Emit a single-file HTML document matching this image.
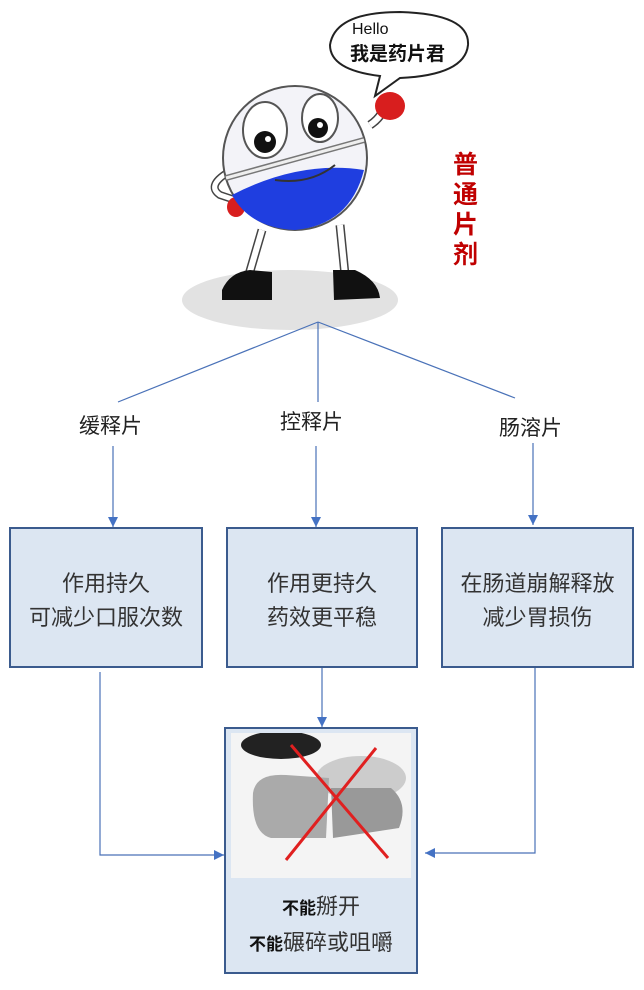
<!DOCTYPE html>
<html><head><meta charset="utf-8"><style>
body{margin:0;background:#fff;width:644px;height:990px;overflow:hidden;position:relative;font-family:"Liberation Sans","Noto Sans CJK SC",sans-serif;}
.b{position:absolute;background:#dce6f2;border:2px solid #3b5b8e;box-sizing:border-box;display:flex;flex-direction:column;align-items:center;justify-content:center;font-size:22px;color:#333;line-height:34px;}
.l{position:absolute;font-size:21px;color:#222;}
</style></head><body>
<svg width="644" height="990" style="position:absolute;left:0;top:0">
<defs><marker id="a" markerWidth="12" markerHeight="12" refX="10" refY="5" orient="auto" markerUnits="userSpaceOnUse"><path d="M0,0 L10,5 L0,10z" fill="#4472c4"/></marker></defs>
<ellipse cx="290" cy="300" rx="108" ry="30" fill="#e2e2e2"/>
<path d="M262,230 L248,278" stroke="#444" stroke-width="9" fill="none"/>
<path d="M262,230 L248,278" stroke="#fff" stroke-width="6" fill="none"/>
<path d="M340,225 L345,275" stroke="#444" stroke-width="9" fill="none"/>
<path d="M340,225 L345,275" stroke="#fff" stroke-width="6" fill="none"/>
<path d="M222,290 Q230,272 250,270 L272,272 L272,300 L222,300z" fill="#111"/>
<path d="M333,270 L355,270 Q378,280 380,298 L334,300z" fill="#111"/>
<path d="M370,125 Q385,115 385,100" stroke="#444" stroke-width="9" fill="none"/>
<path d="M370,125 Q385,115 385,100" stroke="#fff" stroke-width="6" fill="none"/>
<path d="M232,170 Q205,185 220,195 L235,200" stroke="#444" stroke-width="8" fill="none"/>
<path d="M232,170 Q205,185 220,195 L235,200" stroke="#fff" stroke-width="5" fill="none"/>
<ellipse cx="390" cy="106" rx="15" ry="14" fill="#d81e1e"/>
<ellipse cx="236" cy="207" rx="9" ry="10" fill="#d81e1e"/>
<circle cx="295" cy="158" r="72" fill="#f3f3f8" stroke="#555" stroke-width="2"/>
<path d="M232,195 Q300,160 364,170 Q350,225 295,230 Q250,228 232,195z" fill="#1f3ee0"/>
<path d="M226,178 L364,140" stroke="#777" stroke-width="6"/>
<path d="M226,178 L364,140" stroke="#eee" stroke-width="3"/>
<ellipse cx="265" cy="130" rx="22" ry="28" fill="#fff" stroke="#555" stroke-width="2"/>
<ellipse cx="320" cy="118" rx="18" ry="24" fill="#fff" stroke="#555" stroke-width="2"/>
<circle cx="265" cy="142" r="11" fill="#111"/><circle cx="318" cy="128" r="10" fill="#111"/>
<circle cx="268" cy="139" r="3" fill="#fff"/><circle cx="320" cy="125" r="3" fill="#fff"/>
<path d="M275,180 Q310,185 335,165" stroke="#333" stroke-width="2" fill="none"/>
<path d="M330,45 Q335,12 400,12 Q470,14 468,45 Q465,75 400,78 L375,96 L380,76 Q330,70 330,45z" fill="#fff" stroke="#222" stroke-width="2"/>
<text x="352" y="34" font-size="16" fill="#111" font-family="Liberation Sans,sans-serif">Hello</text>
<text x="350" y="60" font-size="19" font-weight="bold" fill="#111" font-family="Liberation Sans,Noto Sans CJK SC,sans-serif">我是药片君</text>
<g stroke="#4a72b8" stroke-width="1.2" fill="none">
<path d="M318,322 L118,402"/><path d="M318,322 L318,402"/><path d="M318,322 L515,398"/>
<path d="M113,446 L113,527" marker-end="url(#a)"/>
<path d="M316,446 L316,527" marker-end="url(#a)"/>
<path d="M533,443 L533,525" marker-end="url(#a)"/>
<path d="M100,672 L100,855 L224,855" marker-end="url(#a)"/>
<path d="M322,667 L322,727" marker-end="url(#a)"/>
<path d="M535,668 L535,853 L425,853" marker-end="url(#a)"/>
</g>
</svg>
<div style="position:absolute;left:453px;top:150px;width:30px;font-size:25px;font-weight:bold;color:#c00000;line-height:30px;">普通片剂</div>
<div class="l" style="left:79px;top:410px">缓释片</div>
<div class="l" style="left:280px;top:406px">控释片</div>
<div class="l" style="left:499px;top:412px">肠溶片</div>
<div class="b" style="left:9px;top:527px;width:194px;height:141px;padding-top:6px"><div>作用持久</div><div>可减少口服次数</div></div>
<div class="b" style="left:226px;top:527px;width:192px;height:141px;padding-top:6px"><div>作用更持久</div><div>药效更平稳</div></div>
<div class="b" style="left:441px;top:527px;width:193px;height:141px;padding-top:6px"><div>在肠道崩解释放</div><div>减少胃损伤</div></div>
<div class="b" style="left:224px;top:727px;width:194px;height:247px;justify-content:flex-start">
<svg width="180" height="145" style="margin-top:4px;background:#f4f4f4">
<ellipse cx="50" cy="12" rx="40" ry="14" fill="#222"/>
<ellipse cx="130" cy="45" rx="45" ry="22" fill="#ccc"/>
<path d="M22,60 Q25,40 55,42 L98,45 L95,105 L40,105 Q20,100 22,60z" fill="#aaa"/>
<path d="M100,55 L160,55 Q178,70 168,95 L102,105z" fill="#999"/>
<path d="M60,12 L157,125 M55,127 L145,15" stroke="#e02020" stroke-width="3"/>
</svg>
<div style="margin-top:12px;line-height:34px;text-align:center"><b style="font-size:17px;color:#111">不能</b>掰开<br><b style="font-size:17px;color:#111">不能</b>碾碎或咀嚼</div>
</div>
</body></html>
